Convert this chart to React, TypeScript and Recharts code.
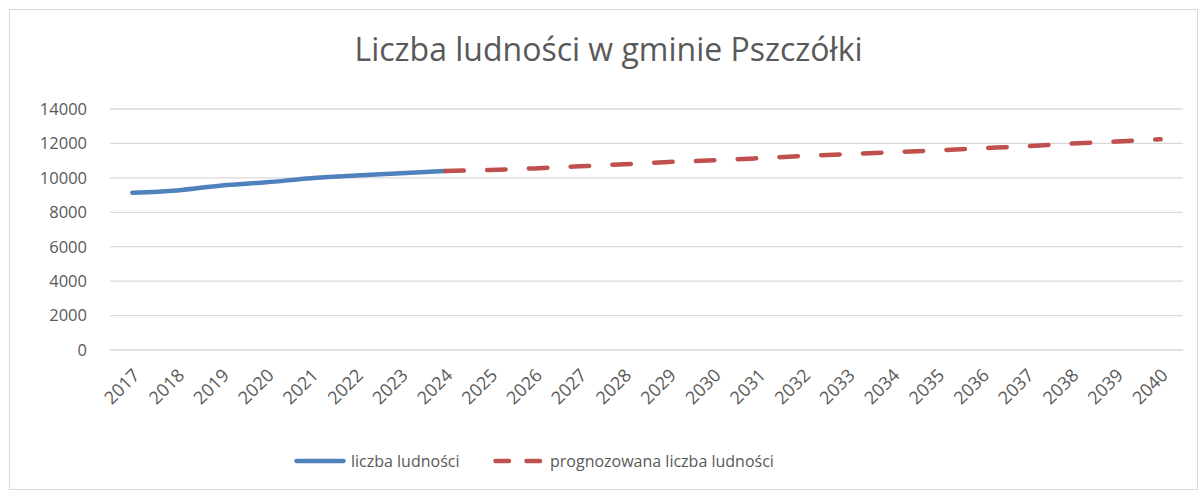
import { LineChart, Line, XAxis, YAxis, CartesianGrid } from "recharts";

const YEARS = [
  "2017", "2018", "2019", "2020", "2021", "2022", "2023", "2024",
  "2025", "2026", "2027", "2028", "2029", "2030", "2031", "2032",
  "2033", "2034", "2035", "2036", "2037", "2038", "2039", "2040",
];

// liczba ludności (dane rzeczywiste)
const ACTUAL = [
  9130, 9270, 9560, 9740, 9980, 10130, 10270, 10400,
  null, null, null, null, null, null, null, null,
  null, null, null, null, null, null, null, null,
];

// prognozowana liczba ludności
const FORECAST = [
  null, null, null, null, null, null, null, 10400,
  10460, 10550, 10670, 10790, 10920, 11020, 11140, 11270,
  11380, 11490, 11600, 11720, 11840, 11990, 12110, 12240,
];

const Y_TICKS = [0, 2000, 4000, 6000, 8000, 10000, 12000, 14000];

const data = YEARS.map((year, i) => ({
  year,
  actual: ACTUAL[i],
  forecast: FORECAST[i],
}));

const FONT = '"Open Sans", "Noto Sans", sans-serif';
const TEXT = "#595959";
const BLUE = "#4f81bd";
const RED = "#c0504d";

const CHART_W = 1187;
const CHART_H = 479;

function YearTick({ x, y, payload }: { x?: number; y?: number; payload?: { value: string } }) {
  return (
    <g transform={`translate(${(x ?? 0) + 4},${(y ?? 0) + 14})`}>
      <text
        transform="rotate(-45)"
        textAnchor="end"
        dy="0.35em"
        fill={TEXT}
        fontSize={18}
        fontFamily={FONT}
      >
        {payload?.value}
      </text>
    </g>
  );
}

export default function App() {
  return (
    <div
      style={{
        position: "absolute",
        left: 9,
        top: 9,
        width: 1189,
        height: 481,
        border: "1px solid #d9d9d9",
        boxSizing: "border-box",
        background: "#fff",
        fontFamily: FONT,
      }}
    >
      {/* Title */}
      <div
        style={{
          position: "absolute",
          left: 5,
          top: 23,
          width: CHART_W,
          textAlign: "center",
          fontSize: 32,
          lineHeight: "32px",
          color: TEXT,
        }}
      >
        Liczba ludności w gminie Pszczółki
      </div>

      <LineChart
        width={CHART_W}
        height={CHART_H}
        data={data}
        margin={{ top: 99, right: 14, bottom: 79, left: 0 }}
      >
        <CartesianGrid vertical={false} stroke="#d9d9d9" strokeWidth={1.3} />
        <XAxis
          dataKey="year"
          axisLine={false}
          tickLine={false}
          interval={0}
          height={60}
          padding={{ left: 22.35, right: 22.35 }}
          tick={<YearTick />}
        />
        <YAxis
          domain={[0, 14000]}
          ticks={Y_TICKS}
          axisLine={false}
          tickLine={false}
          width={100}
          tickMargin={17}
          tick={{ fill: TEXT, fontSize: 16.5, fontFamily: FONT }}
        />
        <Line
          type="monotone"
          dataKey="actual"
          stroke={BLUE}
          strokeWidth={4.5}
          strokeLinecap="round"
          dot={false}
          connectNulls={false}
          isAnimationActive={false}
        />
        <Line
          type="monotone"
          dataKey="forecast"
          stroke={RED}
          strokeWidth={4.5}
          strokeLinecap="round"
          strokeDasharray="18.5 23.3"
          dot={false}
          connectNulls={false}
          isAnimationActive={false}
        />
      </LineChart>

      {/* Legend */}
      <div
        style={{
          position: "absolute",
          top: 439,
          left: 0,
          height: 24,
          width: "100%",
          fontSize: 16,
          color: TEXT,
        }}
      >
        <svg width={60} height={24} style={{ position: "absolute", left: 282, top: 0 }}>
          <line x1={4.5} y1={12} x2={51.5} y2={12} stroke={BLUE} strokeWidth={4.5} strokeLinecap="round" />
        </svg>
        <span style={{ position: "absolute", left: 341, top: 0, lineHeight: "24px", whiteSpace: "nowrap" }}>
          liczba ludności
        </span>
        <svg width={60} height={24} style={{ position: "absolute", left: 481, top: 0 }}>
          <line
            x1={4.5}
            y1={12}
            x2={51.5}
            y2={12}
            stroke={RED}
            strokeWidth={4.5}
            strokeLinecap="round"
            strokeDasharray="13.5 17.5"
          />
        </svg>
        <span style={{ position: "absolute", left: 540, top: 0, lineHeight: "24px", whiteSpace: "nowrap" }}>
          prognozowana liczba ludności
        </span>
      </div>
    </div>
  );
}
